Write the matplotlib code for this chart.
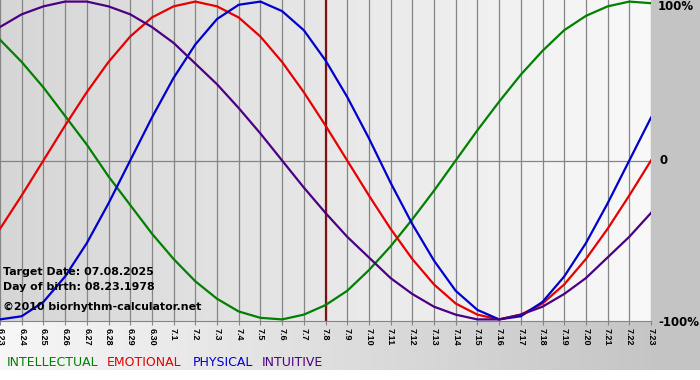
import numpy as np
import matplotlib
matplotlib.use('Agg')
import matplotlib.pyplot as plt

# dates shown on the x axis (6.23 .. 7.23)
dates = ['6.23', '6.24', '6.25', '6.26', '6.27', '6.28', '6.29', '6.30',
         '7.1', '7.2', '7.3', '7.4', '7.5', '7.6', '7.7', '7.8', '7.9',
         '7.10', '7.11', '7.12', '7.13', '7.14', '7.15', '7.16', '7.17',
         '7.18', '7.19', '7.20', '7.21', '7.22', '7.23']
target_idx = 15  # 7.8

# values, -1 .. 1
intellectual = [0.76, 0.62, 0.46, 0.28, 0.10, -0.10, -0.28, -0.46, -0.62, -0.76,
                -0.87, -0.95, -0.99, -1.00, -0.97, -0.91, -0.82, -0.69, -0.54, -0.37,
                -0.19, 0.00, 0.19, 0.37, 0.54, 0.69, 0.82, 0.91, 0.97, 1.00, 0.99]
emotional = [-0.43, -0.22, 0.00, 0.22, 0.43, 0.62, 0.78, 0.90, 0.97, 1.00,
             0.97, 0.90, 0.78, 0.62, 0.43, 0.22, 0.00, -0.22, -0.43, -0.62,
             -0.78, -0.90, -0.97, -1.00, -0.97, -0.90, -0.78, -0.62, -0.43, -0.22, 0.00]
physical = [-1.00, -0.98, -0.89, -0.73, -0.52, -0.27, 0.00, 0.27, 0.52, 0.73,
            0.89, 0.98, 1.00, 0.94, 0.82, 0.63, 0.40, 0.14, -0.14, -0.40,
            -0.63, -0.82, -0.94, -1.00, -0.98, -0.89, -0.73, -0.52, -0.27, 0.00, 0.27]
intuitive = [0.84, 0.92, 0.97, 1.00, 1.00, 0.97, 0.92, 0.84, 0.74, 0.61,
             0.48, 0.33, 0.17, 0.00, -0.17, -0.33, -0.48, -0.61, -0.74, -0.84,
             -0.92, -0.97, -1.00, -1.00, -0.97, -0.92, -0.84, -0.74, -0.61, -0.48, -0.33]

W, H = 700, 380
fig = plt.figure(figsize=(W / 100, H / 100), dpi=100)

# page background: gray band with horizontal gradient, white strip at the bottom
bg = fig.add_axes([0, 0, 1, 1], zorder=-2)
bg.axis('off')
g = np.linspace(0.97, 0.76, W)
img = np.tile(g, (H, 1))
img[:, 651:] = 0.77
img[370:, :] = 1.0
bg.imshow(np.dstack([img] * 3), aspect='auto', extent=[0, W, H, 0])
bg.set_xlim(0, W)
bg.set_ylim(H, 0)

# plot area
ax = fig.add_axes([0, (H - 321) / H, 651 / W, 321 / H])
ax.set_facecolor('none')
x = np.arange(len(dates))
ax.set_xlim(0, len(dates) - 1)
ax.set_ylim(-1.01, 1.01)
grad = np.linspace(0.84, 0.975, 200)
ax.imshow(np.dstack([np.tile(grad, (2, 1))] * 3), aspect='auto',
          extent=[0, len(dates) - 1, -1.01, 1.01], zorder=0)

for xi in x:
    ax.axvline(xi, color='#858585', lw=0.9, zorder=1)
ax.axhline(0, color='#858585', lw=0.9, zorder=1)
ax.axvline(target_idx, color='#7a1414', lw=1.6, zorder=2)

ax.plot(x, intellectual, color='#008000', lw=1.6, zorder=3)
ax.plot(x, emotional, color='#e60000', lw=1.6, zorder=3)
ax.plot(x, physical, color='#0000cc', lw=1.6, zorder=3)
ax.plot(x, intuitive, color='#4b0082', lw=1.6, zorder=3)

for s in ['top', 'right', 'left']:
    ax.spines[s].set_visible(False)
ax.spines['bottom'].set_color('#858585')
ax.set_yticks([])
ax.set_xticks(x)
ax.set_xticklabels(dates, rotation=270, fontsize=6.5, fontweight='bold',
                   family='Liberation Sans')
ax.tick_params(axis='x', length=3, color='#858585', pad=2)

# texts on the chart
def px(xp, yp):
    return xp / W, 1 - yp / H

fig.text(*px(3, 272), 'Target Date: 07.08.2025', fontsize=7.9, fontweight='bold',
         va='center', ha='left')
fig.text(*px(3, 287), 'Day of birth: 08.23.1978', fontsize=7.9, fontweight='bold',
         va='center', ha='left')
fig.text(*px(3, 307), '\u00a92010 biorhythm-calculator.net', fontsize=7.9,
         fontweight='bold', va='center', ha='left')

fig.text(*px(658, 7), '100%', fontsize=8.5, fontweight='bold', va='center')
fig.text(*px(659, 161), '0', fontsize=8.5, fontweight='bold', va='center')
fig.text(*px(658, 322), '-100%', fontsize=8.5, fontweight='bold', va='center')

# legend
legend_items = [('INTELLECTUAL', '#008000', 7), ('EMOTIONAL', '#e60000', 107),
                ('PHYSICAL', '#0000cc', 193), ('INTUITIVE', '#4b0082', 262)]
for name, col, xp in legend_items:
    fig.text(*px(xp, 362), name, fontsize=9, color=col, va='center')

fig.savefig('out.png', dpi=100)
